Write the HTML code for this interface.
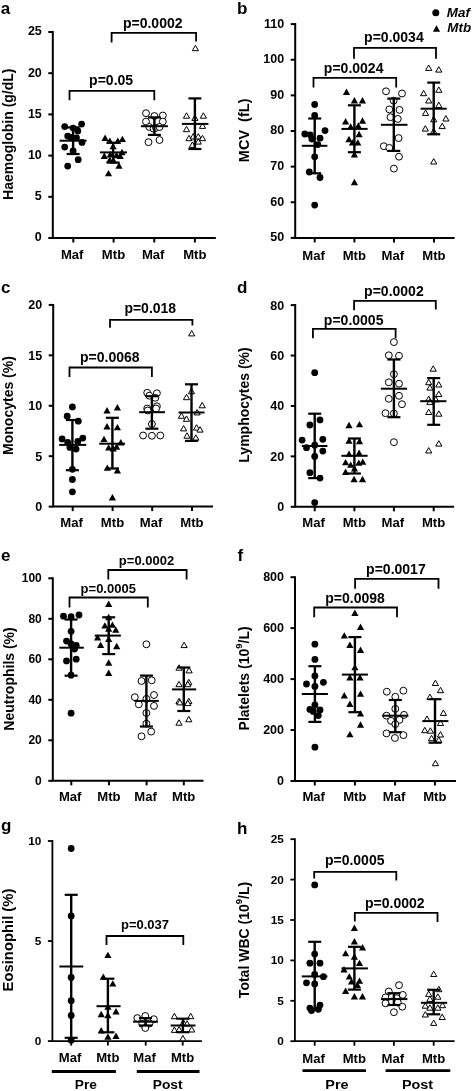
<!DOCTYPE html>
<html><head><meta charset="utf-8"><title>Figure</title>
<style>
html,body{margin:0;padding:0;background:#fff;}
svg{display:block;filter:blur(0.35px);}
text{font-family:"Liberation Sans", sans-serif;fill:#000;}
.B{font-weight:bold;}
.BI{font-weight:bold;font-style:italic;}
.L{font-weight:bold;font-size:17px;}
.o{fill:#fff;stroke:#000;stroke-width:1;}
</style></head>
<body>
<svg width="474" height="1091" viewBox="0 0 474 1091">
<rect width="474" height="1091" fill="#fff"/>
<text transform="translate(0.7 13.7) scale(1 1)" font-size="17" class="B">a</text>
<g stroke="#000" stroke-linecap="butt">
<path d="M52.8 31.01V238H215.8" fill="none" stroke-width="2" stroke-linejoin="miter"/>
<line x1="48.3" y1="238" x2="52.8" y2="238" stroke-width="2"/>
<line x1="48.3" y1="196.8" x2="52.8" y2="196.8" stroke-width="2"/>
<line x1="48.3" y1="155.6" x2="52.8" y2="155.6" stroke-width="2"/>
<line x1="48.3" y1="114.4" x2="52.8" y2="114.4" stroke-width="2"/>
<line x1="48.3" y1="73.2" x2="52.8" y2="73.2" stroke-width="2"/>
<line x1="48.3" y1="32" x2="52.8" y2="32" stroke-width="2"/>
<line x1="73.3" y1="238" x2="73.3" y2="242.5" stroke-width="2"/>
<line x1="113.6" y1="238" x2="113.6" y2="242.5" stroke-width="2"/>
<line x1="154.3" y1="238" x2="154.3" y2="242.5" stroke-width="2"/>
<line x1="194.9" y1="238" x2="194.9" y2="242.5" stroke-width="2"/>
</g>
<text transform="translate(41.8 241.47) scale(1 1)" text-anchor="end" font-size="12.5" class="B">0</text>
<text transform="translate(41.8 200.28) scale(1 1)" text-anchor="end" font-size="12.5" class="B">5</text>
<text transform="translate(41.8 159.07) scale(1 1)" text-anchor="end" font-size="12.5" class="B">10</text>
<text transform="translate(41.8 117.88) scale(1 1)" text-anchor="end" font-size="12.5" class="B">15</text>
<text transform="translate(41.8 76.67) scale(1 1)" text-anchor="end" font-size="12.5" class="B">20</text>
<text transform="translate(41.8 35.48) scale(1 1)" text-anchor="end" font-size="12.5" class="B">25</text>
<text transform="translate(72.2 258.95) scale(1.05 1)" text-anchor="middle" font-size="12.5" class="B">Maf</text>
<text transform="translate(113.5 258.95) scale(1.05 1)" text-anchor="middle" font-size="12.5" class="B">Mtb</text>
<text transform="translate(153.2 258.95) scale(1.05 1)" text-anchor="middle" font-size="12.5" class="B">Maf</text>
<text transform="translate(194.8 258.95) scale(1.05 1)" text-anchor="middle" font-size="12.5" class="B">Mtb</text>
<text transform="translate(12.8 134.2) rotate(-90)" text-anchor="middle" font-size="14" class="B">Haemoglobin (g/dL)</text>
<path d="M69.5 100.2V90.9H154.3V100.2" fill="none" stroke="#000" stroke-width="1.8" stroke-linejoin="miter"/>
<text transform="translate(111.1 85.16) scale(1 1)" text-anchor="middle" font-size="14" class="B">p=0.05</text>
<path d="M111.6 42.6V32.9H196.1V41.6" fill="none" stroke="#000" stroke-width="1.8" stroke-linejoin="miter"/>
<text transform="translate(152.75 28.01) scale(1 1)" text-anchor="middle" font-size="14" class="B">p=0.0002</text>
<g><circle cx="64.7" cy="126.6" r="3.4"/><circle cx="81.6" cy="124.1" r="3.4"/><circle cx="73.1" cy="128.1" r="3.4"/><circle cx="77.8" cy="131" r="3.4"/><circle cx="67.7" cy="136.1" r="3.4"/><circle cx="76.5" cy="137.8" r="3.4"/><circle cx="71" cy="137.4" r="3.4"/><circle cx="82" cy="142.4" r="3.4"/><circle cx="64.7" cy="147.1" r="3.4"/><circle cx="73.1" cy="150.9" r="3.4"/><circle cx="78.2" cy="159.7" r="3.4"/><circle cx="67.7" cy="166.1" r="3.4"/></g>
<g stroke="#000">
<line x1="73.1" y1="127.4" x2="73.1" y2="154" stroke-width="2.4"/>
<line x1="66.6" y1="127.4" x2="79.6" y2="127.4" stroke-width="2.2"/>
<line x1="66.6" y1="154" x2="79.6" y2="154" stroke-width="2.2"/>
<line x1="59.6" y1="140.7" x2="86.6" y2="140.7" stroke-width="2"/>
</g>
<g><polygon points="105.1,134.5 101.5,140.9 108.7,140.9"/><polygon points="109.8,137.4 106.2,143.8 113.4,143.8"/><polygon points="117.8,137.4 114.2,143.8 121.4,143.8"/><polygon points="122.4,135.7 118.8,142.1 126,142.1"/><polygon points="113.1,142.9 109.5,149.3 116.7,149.3"/><polygon points="122,148.8 118.4,155.2 125.6,155.2"/><polygon points="104.3,152.6 100.7,159 107.9,159"/><polygon points="110.3,151 106.7,157.4 113.9,157.4"/><polygon points="116.5,151.8 112.9,158.2 120.1,158.2"/><polygon points="120.2,152.6 116.6,159 123.8,159"/><polygon points="109.8,156.4 106.2,162.8 113.4,162.8"/><polygon points="113.6,157.2 110,163.6 117.2,163.6"/><polygon points="119,162.3 115.4,168.7 122.6,168.7"/><polygon points="108.5,169.9 104.9,176.3 112.1,176.3"/></g>
<g stroke="#000">
<line x1="113.1" y1="142.7" x2="113.1" y2="162.6" stroke-width="2.4"/>
<line x1="106.6" y1="142.7" x2="119.6" y2="142.7" stroke-width="2.2"/>
<line x1="106.6" y1="162.6" x2="119.6" y2="162.6" stroke-width="2.2"/>
<line x1="100" y1="152.4" x2="127" y2="152.4" stroke-width="2"/>
</g>
<g><circle cx="146" cy="113.2" r="3.45" class="o"/><circle cx="154.4" cy="116" r="3.45" class="o"/><circle cx="162.8" cy="115.5" r="3.45" class="o"/><circle cx="146" cy="121.6" r="3.45" class="o"/><circle cx="162.8" cy="121.6" r="3.45" class="o"/><circle cx="149.3" cy="127" r="3.45" class="o"/><circle cx="153.6" cy="128.7" r="3.45" class="o"/><circle cx="156" cy="127.8" r="3.45" class="o"/><circle cx="159.5" cy="127" r="3.45" class="o"/><circle cx="148.5" cy="142.2" r="3.45" class="o"/><circle cx="159.5" cy="140" r="3.45" class="o"/></g>
<g stroke="#000">
<line x1="154.4" y1="117.4" x2="154.4" y2="134.9" stroke-width="2.4"/>
<line x1="147.9" y1="117.4" x2="160.9" y2="117.4" stroke-width="2.2"/>
<line x1="147.9" y1="134.9" x2="160.9" y2="134.9" stroke-width="2.2"/>
<line x1="140.9" y1="126.2" x2="167.9" y2="126.2" stroke-width="2"/>
</g>
<g><polygon points="186.5,112.8 183.4,118.2 189.6,118.2" class="o" stroke-linejoin="miter"/><polygon points="203.4,112.8 200.3,118.2 206.5,118.2" class="o" stroke-linejoin="miter"/><polygon points="194.9,115 191.8,120.4 198,120.4" class="o" stroke-linejoin="miter"/><polygon points="186.5,126.3 183.4,131.7 189.6,131.7" class="o" stroke-linejoin="miter"/><polygon points="202.5,123 199.4,128.4 205.6,128.4" class="o" stroke-linejoin="miter"/><polygon points="189,135.3 185.9,140.7 192.1,140.7" class="o" stroke-linejoin="miter"/><polygon points="193.2,133.6 190.1,139 196.3,139" class="o" stroke-linejoin="miter"/><polygon points="198.3,133.6 195.2,139 201.4,139" class="o" stroke-linejoin="miter"/><polygon points="202.5,135.3 199.4,140.7 205.6,140.7" class="o" stroke-linejoin="miter"/><polygon points="192.4,142 189.3,147.4 195.5,147.4" class="o" stroke-linejoin="miter"/><polygon points="198.3,138.7 195.2,144.1 201.4,144.1" class="o" stroke-linejoin="miter"/><polygon points="195.4,45.3 192.3,50.7 198.5,50.7" class="o" stroke-linejoin="miter"/></g>
<g stroke="#000">
<line x1="194.9" y1="98.4" x2="194.9" y2="149" stroke-width="2.4"/>
<line x1="188.4" y1="98.4" x2="201.4" y2="98.4" stroke-width="2.2"/>
<line x1="188.4" y1="149" x2="201.4" y2="149" stroke-width="2.2"/>
<line x1="181.9" y1="123.9" x2="208.4" y2="123.9" stroke-width="2"/>
</g>
<text transform="translate(236.9 13.6) scale(1 1)" font-size="17" class="B">b</text>
<g stroke="#000" stroke-linecap="butt">
<path d="M295.2 23.11V237.9H454.6" fill="none" stroke-width="2" stroke-linejoin="miter"/>
<line x1="290.7" y1="237.9" x2="295.2" y2="237.9" stroke-width="2"/>
<line x1="290.7" y1="202.27" x2="295.2" y2="202.27" stroke-width="2"/>
<line x1="290.7" y1="166.63" x2="295.2" y2="166.63" stroke-width="2"/>
<line x1="290.7" y1="131" x2="295.2" y2="131" stroke-width="2"/>
<line x1="290.7" y1="95.37" x2="295.2" y2="95.37" stroke-width="2"/>
<line x1="290.7" y1="59.73" x2="295.2" y2="59.73" stroke-width="2"/>
<line x1="290.7" y1="24.1" x2="295.2" y2="24.1" stroke-width="2"/>
<line x1="314.7" y1="237.9" x2="314.7" y2="242.4" stroke-width="2"/>
<line x1="354.4" y1="237.9" x2="354.4" y2="242.4" stroke-width="2"/>
<line x1="394" y1="237.9" x2="394" y2="242.4" stroke-width="2"/>
<line x1="434" y1="237.9" x2="434" y2="242.4" stroke-width="2"/>
</g>
<text transform="translate(284.2 241.38) scale(1 1)" text-anchor="end" font-size="12.5" class="B">50</text>
<text transform="translate(284.2 205.74) scale(1 1)" text-anchor="end" font-size="12.5" class="B">60</text>
<text transform="translate(284.2 170.11) scale(1 1)" text-anchor="end" font-size="12.5" class="B">70</text>
<text transform="translate(284.2 134.47) scale(1 1)" text-anchor="end" font-size="12.5" class="B">80</text>
<text transform="translate(284.2 98.84) scale(1 1)" text-anchor="end" font-size="12.5" class="B">90</text>
<text transform="translate(284.2 63.21) scale(1 1)" text-anchor="end" font-size="12.5" class="B">100</text>
<text transform="translate(284.2 27.57) scale(1 1)" text-anchor="end" font-size="12.5" class="B">110</text>
<text transform="translate(313.6 259.55) scale(1.05 1)" text-anchor="middle" font-size="12.5" class="B">Maf</text>
<text transform="translate(354.3 259.55) scale(1.05 1)" text-anchor="middle" font-size="12.5" class="B">Mtb</text>
<text transform="translate(392.9 259.55) scale(1.05 1)" text-anchor="middle" font-size="12.5" class="B">Maf</text>
<text transform="translate(433.9 259.55) scale(1.05 1)" text-anchor="middle" font-size="12.5" class="B">Mtb</text>
<text transform="translate(248.7 130.35) rotate(-90)" text-anchor="middle" font-size="14.5" class="B">MCV  (fL)</text>
<path d="M313.5 87.5V77.9H396.2V87.5" fill="none" stroke="#000" stroke-width="1.8" stroke-linejoin="miter"/>
<text transform="translate(353.65 72.96) scale(1 1)" text-anchor="middle" font-size="14" class="B">p=0.0024</text>
<path d="M354 58.8V47.9H436V58.8" fill="none" stroke="#000" stroke-width="1.8" stroke-linejoin="miter"/>
<text transform="translate(393.9 42.41) scale(1 1)" text-anchor="middle" font-size="14" class="B">p=0.0034</text>
<g><circle cx="314.7" cy="104.5" r="3.4"/><circle cx="314.7" cy="115.4" r="3.4"/><circle cx="304.8" cy="134" r="3.4"/><circle cx="310.2" cy="134.8" r="3.4"/><circle cx="325" cy="130.6" r="3.4"/><circle cx="311.9" cy="139" r="3.4"/><circle cx="320" cy="138.2" r="3.4"/><circle cx="317.8" cy="144.6" r="3.4"/><circle cx="314.7" cy="156.8" r="3.4"/><circle cx="309.3" cy="172" r="3.4"/><circle cx="320" cy="177.5" r="3.4"/><circle cx="314.7" cy="205.1" r="3.4"/></g>
<g stroke="#000">
<line x1="314.7" y1="118.5" x2="314.7" y2="173.3" stroke-width="2.4"/>
<line x1="308.2" y1="118.5" x2="321.2" y2="118.5" stroke-width="2.2"/>
<line x1="308.2" y1="173.3" x2="321.2" y2="173.3" stroke-width="2.2"/>
<line x1="301.8" y1="145.8" x2="327.4" y2="145.8" stroke-width="2"/>
</g>
<g><polygon points="346.5,88.6 342.9,95 350.1,95"/><polygon points="354.4,97 350.8,103.4 358,103.4"/><polygon points="362.5,97 358.9,103.4 366.1,103.4"/><polygon points="345.6,118.1 342,124.5 349.2,124.5"/><polygon points="362.5,117.3 358.9,123.7 366.1,123.7"/><polygon points="350.7,123.2 347.1,129.6 354.3,129.6"/><polygon points="358.3,122.3 354.7,128.7 361.9,128.7"/><polygon points="359.1,130.8 355.5,137.2 362.7,137.2"/><polygon points="349,135.8 345.4,142.2 352.6,142.2"/><polygon points="352.4,139.2 348.8,145.6 356,145.6"/><polygon points="357.8,139.2 354.2,145.6 361.4,145.6"/><polygon points="354.4,151 350.8,157.4 358,157.4"/><polygon points="354.4,178.8 350.8,185.2 358,185.2"/></g>
<g stroke="#000">
<line x1="354.4" y1="105.3" x2="354.4" y2="152.2" stroke-width="2.4"/>
<line x1="347.9" y1="105.3" x2="360.9" y2="105.3" stroke-width="2.2"/>
<line x1="347.9" y1="152.2" x2="360.9" y2="152.2" stroke-width="2.2"/>
<line x1="341.4" y1="128.9" x2="367.6" y2="128.9" stroke-width="2"/>
</g>
<g><circle cx="386" cy="91.3" r="3.45" class="o"/><circle cx="402" cy="93.5" r="3.45" class="o"/><circle cx="393.6" cy="100.6" r="3.45" class="o"/><circle cx="389.3" cy="109.4" r="3.45" class="o"/><circle cx="399.5" cy="109.9" r="3.45" class="o"/><circle cx="390.5" cy="117.2" r="3.45" class="o"/><circle cx="397.8" cy="118.9" r="3.45" class="o"/><circle cx="398.6" cy="138.1" r="3.45" class="o"/><circle cx="383.8" cy="146.2" r="3.45" class="o"/><circle cx="389.3" cy="147.9" r="3.45" class="o"/><circle cx="399" cy="156.7" r="3.45" class="o"/><circle cx="393.9" cy="168.6" r="3.45" class="o"/></g>
<g stroke="#000">
<line x1="393.8" y1="98.6" x2="393.8" y2="150.9" stroke-width="2.4"/>
<line x1="387.3" y1="98.6" x2="400.3" y2="98.6" stroke-width="2.2"/>
<line x1="387.3" y1="150.9" x2="400.3" y2="150.9" stroke-width="2.2"/>
<line x1="380.9" y1="124.8" x2="407.5" y2="124.8" stroke-width="2"/>
</g>
<g><polygon points="428.7,65 425.6,70.4 431.8,70.4" class="o" stroke-linejoin="miter"/><polygon points="438.8,66.7 435.7,72.1 441.9,72.1" class="o" stroke-linejoin="miter"/><polygon points="438.8,86.9 435.7,92.3 441.9,92.3" class="o" stroke-linejoin="miter"/><polygon points="423.6,90.3 420.5,95.7 426.7,95.7" class="o" stroke-linejoin="miter"/><polygon points="428.7,97.6 425.6,103 431.8,103" class="o" stroke-linejoin="miter"/><polygon points="438.8,102.1 435.7,107.5 441.9,107.5" class="o" stroke-linejoin="miter"/><polygon points="425.6,110 422.5,115.4 428.7,115.4" class="o" stroke-linejoin="miter"/><polygon points="433.7,116.4 430.6,121.8 436.8,121.8" class="o" stroke-linejoin="miter"/><polygon points="445.9,115.6 442.8,121 449,121" class="o" stroke-linejoin="miter"/><polygon points="442.2,123.2 439.1,128.6 445.3,128.6" class="o" stroke-linejoin="miter"/><polygon points="425.3,125.7 422.2,131.1 428.4,131.1" class="o" stroke-linejoin="miter"/><polygon points="433.7,128.3 430.6,133.7 436.8,133.7" class="o" stroke-linejoin="miter"/><polygon points="433.7,158.6 430.6,164 436.8,164" class="o" stroke-linejoin="miter"/></g>
<g stroke="#000">
<line x1="433.7" y1="82.6" x2="433.7" y2="134.3" stroke-width="2.4"/>
<line x1="427.2" y1="82.6" x2="440.2" y2="82.6" stroke-width="2.2"/>
<line x1="427.2" y1="134.3" x2="440.2" y2="134.3" stroke-width="2.2"/>
<line x1="420.6" y1="108.7" x2="446.7" y2="108.7" stroke-width="2"/>
</g>
<circle cx="435.8" cy="12.7" r="3.5"/>
<polygon points="436.5,25.3 432.9,31.7 440.1,31.7"/>
<text transform="translate(446.8 16.8) scale(1.03 1)" font-size="13" class="BI">Maf</text>
<text transform="translate(447.3 31.7) scale(1.03 1)" font-size="13" class="BI">Mtb</text>
<text transform="translate(1 292.8) scale(1 1)" font-size="17" class="B">c</text>
<g stroke="#000" stroke-linecap="butt">
<path d="M53.2 303.91V506.6H213" fill="none" stroke-width="2" stroke-linejoin="miter"/>
<line x1="48.7" y1="506.6" x2="53.2" y2="506.6" stroke-width="2"/>
<line x1="48.7" y1="456.18" x2="53.2" y2="456.18" stroke-width="2"/>
<line x1="48.7" y1="405.75" x2="53.2" y2="405.75" stroke-width="2"/>
<line x1="48.7" y1="355.32" x2="53.2" y2="355.32" stroke-width="2"/>
<line x1="48.7" y1="304.9" x2="53.2" y2="304.9" stroke-width="2"/>
<line x1="72.7" y1="506.6" x2="72.7" y2="511.1" stroke-width="2"/>
<line x1="112.6" y1="506.6" x2="112.6" y2="511.1" stroke-width="2"/>
<line x1="152.2" y1="506.6" x2="152.2" y2="511.1" stroke-width="2"/>
<line x1="192" y1="506.6" x2="192" y2="511.1" stroke-width="2"/>
</g>
<text transform="translate(42.2 511.08) scale(1 1)" text-anchor="end" font-size="12.5" class="B">0</text>
<text transform="translate(42.2 460.65) scale(1 1)" text-anchor="end" font-size="12.5" class="B">5</text>
<text transform="translate(42.2 410.23) scale(1 1)" text-anchor="end" font-size="12.5" class="B">10</text>
<text transform="translate(42.2 359.8) scale(1 1)" text-anchor="end" font-size="12.5" class="B">15</text>
<text transform="translate(42.2 309.38) scale(1 1)" text-anchor="end" font-size="12.5" class="B">20</text>
<text transform="translate(71.6 527.45) scale(1.05 1)" text-anchor="middle" font-size="12.5" class="B">Maf</text>
<text transform="translate(112.5 527.45) scale(1.05 1)" text-anchor="middle" font-size="12.5" class="B">Mtb</text>
<text transform="translate(151.1 527.45) scale(1.05 1)" text-anchor="middle" font-size="12.5" class="B">Maf</text>
<text transform="translate(191.9 527.45) scale(1.05 1)" text-anchor="middle" font-size="12.5" class="B">Mtb</text>
<text transform="translate(12.8 405.5) rotate(-90)" text-anchor="middle" font-size="14" class="B">Monocytes (%)</text>
<path d="M69.5 377V367.5H151.9V377" fill="none" stroke="#000" stroke-width="1.8" stroke-linejoin="miter"/>
<text transform="translate(109.85 361.71) scale(1 1)" text-anchor="middle" font-size="14" class="B">p=0.0068</text>
<path d="M110 327.8V319.8H192.4V325.4" fill="none" stroke="#000" stroke-width="1.8" stroke-linejoin="miter"/>
<text transform="translate(150.25 312.81) scale(1 1)" text-anchor="middle" font-size="14" class="B">p=0.018</text>
<g><circle cx="72.4" cy="406.9" r="3.4"/><circle cx="67.2" cy="416.2" r="3.4"/><circle cx="78.3" cy="421.2" r="3.4"/><circle cx="62.1" cy="438.9" r="3.4"/><circle cx="82.8" cy="438.1" r="3.4"/><circle cx="67.7" cy="442.3" r="3.4"/><circle cx="77.8" cy="441.5" r="3.4"/><circle cx="69.9" cy="447.4" r="3.4"/><circle cx="76.1" cy="449.1" r="3.4"/><circle cx="72.4" cy="469.3" r="3.4"/><circle cx="72.4" cy="479.5" r="3.4"/><circle cx="72.4" cy="491.8" r="3.4"/></g>
<g stroke="#000">
<line x1="72.4" y1="420" x2="72.4" y2="470.2" stroke-width="2.4"/>
<line x1="65.9" y1="420" x2="78.9" y2="420" stroke-width="2.2"/>
<line x1="65.9" y1="470.2" x2="78.9" y2="470.2" stroke-width="2.2"/>
<line x1="59.2" y1="444.9" x2="86.2" y2="444.9" stroke-width="2"/>
</g>
<g><polygon points="107,407.1 103.4,413.5 110.6,413.5"/><polygon points="117.4,404 113.8,410.4 121,410.4"/><polygon points="107,423.1 103.4,429.5 110.6,429.5"/><polygon points="117.4,423.9 113.8,430.3 121,430.3"/><polygon points="104,435.7 100.4,442.1 107.6,442.1"/><polygon points="120.8,439.1 117.2,445.5 124.4,445.5"/><polygon points="108.7,444.2 105.1,450.6 112.3,450.6"/><polygon points="113.2,445 109.6,451.4 116.8,451.4"/><polygon points="116.6,443.3 113,449.7 120.2,449.7"/><polygon points="107.3,464.4 103.7,470.8 110.9,470.8"/><polygon points="117.4,467 113.8,473.4 121,473.4"/><polygon points="112.4,494 108.8,500.4 116,500.4"/></g>
<g stroke="#000">
<line x1="112.4" y1="417.8" x2="112.4" y2="468.5" stroke-width="2.4"/>
<line x1="105.9" y1="417.8" x2="118.9" y2="417.8" stroke-width="2.2"/>
<line x1="105.9" y1="468.5" x2="118.9" y2="468.5" stroke-width="2.2"/>
<line x1="99.2" y1="443.7" x2="125" y2="443.7" stroke-width="2"/>
</g>
<g><circle cx="147.2" cy="392.8" r="3.45" class="o"/><circle cx="156.9" cy="393.3" r="3.45" class="o"/><circle cx="149.3" cy="395.7" r="3.45" class="o"/><circle cx="155.3" cy="397.8" r="3.45" class="o"/><circle cx="147.2" cy="408.5" r="3.45" class="o"/><circle cx="147.7" cy="410.5" r="3.45" class="o"/><circle cx="156.9" cy="406.3" r="3.45" class="o"/><circle cx="156.1" cy="408.5" r="3.45" class="o"/><circle cx="151.9" cy="424" r="3.45" class="o"/><circle cx="143.1" cy="435.5" r="3.45" class="o"/><circle cx="151.9" cy="435.8" r="3.45" class="o"/><circle cx="160.3" cy="435.5" r="3.45" class="o"/></g>
<g stroke="#000">
<line x1="151.9" y1="396.2" x2="151.9" y2="428.7" stroke-width="2.4"/>
<line x1="145.4" y1="396.2" x2="158.4" y2="396.2" stroke-width="2.2"/>
<line x1="145.4" y1="428.7" x2="158.4" y2="428.7" stroke-width="2.2"/>
<line x1="139.2" y1="412.2" x2="165" y2="412.2" stroke-width="2"/>
</g>
<g><polygon points="191.5,388.4 188.4,393.8 194.6,393.8" class="o" stroke-linejoin="miter"/><polygon points="186.5,394.3 183.4,399.7 189.6,399.7" class="o" stroke-linejoin="miter"/><polygon points="202.2,402.4 199.1,407.8 205.3,407.8" class="o" stroke-linejoin="miter"/><polygon points="197.1,409.5 194,414.9 200.2,414.9" class="o" stroke-linejoin="miter"/><polygon points="181.4,412.9 178.3,418.3 184.5,418.3" class="o" stroke-linejoin="miter"/><polygon points="186.5,415.9 183.4,421.3 189.6,421.3" class="o" stroke-linejoin="miter"/><polygon points="183.6,425.5 180.5,430.9 186.7,430.9" class="o" stroke-linejoin="miter"/><polygon points="196.6,424.7 193.5,430.1 199.7,430.1" class="o" stroke-linejoin="miter"/><polygon points="200,426.7 196.9,432.1 203.1,432.1" class="o" stroke-linejoin="miter"/><polygon points="187,432.8 183.9,438.2 190.1,438.2" class="o" stroke-linejoin="miter"/><polygon points="195.8,434.8 192.7,440.2 198.9,440.2" class="o" stroke-linejoin="miter"/><polygon points="191.7,330.5 188.6,335.9 194.8,335.9" class="o" stroke-linejoin="miter"/></g>
<g stroke="#000">
<line x1="191.5" y1="384.3" x2="191.5" y2="440.9" stroke-width="2.4"/>
<line x1="185" y1="384.3" x2="198" y2="384.3" stroke-width="2.2"/>
<line x1="185" y1="440.9" x2="198" y2="440.9" stroke-width="2.2"/>
<line x1="178.5" y1="412.5" x2="204.5" y2="412.5" stroke-width="2"/>
</g>
<text transform="translate(236.9 292.8) scale(1 1)" font-size="17" class="B">d</text>
<g stroke="#000" stroke-linecap="butt">
<path d="M295.2 304.11V506.8H454.1" fill="none" stroke-width="2" stroke-linejoin="miter"/>
<line x1="290.7" y1="506.8" x2="295.2" y2="506.8" stroke-width="2"/>
<line x1="290.7" y1="456.38" x2="295.2" y2="456.38" stroke-width="2"/>
<line x1="290.7" y1="405.95" x2="295.2" y2="405.95" stroke-width="2"/>
<line x1="290.7" y1="355.53" x2="295.2" y2="355.53" stroke-width="2"/>
<line x1="290.7" y1="305.1" x2="295.2" y2="305.1" stroke-width="2"/>
<line x1="314.7" y1="506.8" x2="314.7" y2="511.3" stroke-width="2"/>
<line x1="354.4" y1="506.8" x2="354.4" y2="511.3" stroke-width="2"/>
<line x1="393.9" y1="506.8" x2="393.9" y2="511.3" stroke-width="2"/>
<line x1="433.7" y1="506.8" x2="433.7" y2="511.3" stroke-width="2"/>
</g>
<text transform="translate(284.2 511.28) scale(1 1)" text-anchor="end" font-size="12.5" class="B">0</text>
<text transform="translate(284.2 460.85) scale(1 1)" text-anchor="end" font-size="12.5" class="B">20</text>
<text transform="translate(284.2 410.43) scale(1 1)" text-anchor="end" font-size="12.5" class="B">40</text>
<text transform="translate(284.2 360) scale(1 1)" text-anchor="end" font-size="12.5" class="B">60</text>
<text transform="translate(284.2 309.58) scale(1 1)" text-anchor="end" font-size="12.5" class="B">80</text>
<text transform="translate(313.6 527.45) scale(1.05 1)" text-anchor="middle" font-size="12.5" class="B">Maf</text>
<text transform="translate(354.3 527.45) scale(1.05 1)" text-anchor="middle" font-size="12.5" class="B">Mtb</text>
<text transform="translate(392.8 527.45) scale(1.05 1)" text-anchor="middle" font-size="12.5" class="B">Maf</text>
<text transform="translate(433.6 527.45) scale(1.05 1)" text-anchor="middle" font-size="12.5" class="B">Mtb</text>
<text transform="translate(249 405) rotate(-90)" text-anchor="middle" font-size="14" class="B">Lymphocytes (%)</text>
<path d="M312.9 338.3V328.9H395.6V338.3" fill="none" stroke="#000" stroke-width="1.8" stroke-linejoin="miter"/>
<text transform="translate(353.65 324.61) scale(1 1)" text-anchor="middle" font-size="14" class="B">p=0.0005</text>
<path d="M354.1 310.3V300.9H435.8V309.6" fill="none" stroke="#000" stroke-width="1.8" stroke-linejoin="miter"/>
<text transform="translate(393.9 296.41) scale(1 1)" text-anchor="middle" font-size="14" class="B">p=0.0002</text>
<g><circle cx="314.7" cy="372.7" r="3.4"/><circle cx="320" cy="419.9" r="3.4"/><circle cx="309.9" cy="425" r="3.4"/><circle cx="302.1" cy="440.1" r="3.4"/><circle cx="322.8" cy="439.3" r="3.4"/><circle cx="306.5" cy="447.7" r="3.4"/><circle cx="314.7" cy="445.2" r="3.4"/><circle cx="322.8" cy="451.1" r="3.4"/><circle cx="314.7" cy="456.5" r="3.4"/><circle cx="309.9" cy="472.7" r="3.4"/><circle cx="320" cy="478.1" r="3.4"/><circle cx="314.7" cy="502.6" r="3.4"/></g>
<g stroke="#000">
<line x1="314.7" y1="413.7" x2="314.7" y2="478.1" stroke-width="2.4"/>
<line x1="308.2" y1="413.7" x2="321.2" y2="413.7" stroke-width="2.2"/>
<line x1="308.2" y1="478.1" x2="321.2" y2="478.1" stroke-width="2.2"/>
<line x1="301.8" y1="446" x2="327.4" y2="446" stroke-width="2"/>
</g>
<g><polygon points="349,421.8 345.4,428.2 352.6,428.2"/><polygon points="359.5,420.9 355.9,427.3 363.1,427.3"/><polygon points="349,437.4 345.4,443.8 352.6,443.8"/><polygon points="359.5,437.8 355.9,444.2 363.1,444.2"/><polygon points="349,450.4 345.4,456.8 352.6,456.8"/><polygon points="359.1,449.6 355.5,456 362.7,456"/><polygon points="345.6,458.9 342,465.3 349.2,465.3"/><polygon points="350.7,461.4 347.1,467.8 354.3,467.8"/><polygon points="358.8,459.4 355.2,465.8 362.4,465.8"/><polygon points="362.8,458.4 359.2,464.8 366.4,464.8"/><polygon points="345.6,468.5 342,474.9 349.2,474.9"/><polygon points="354.5,465.1 350.9,471.5 358.1,471.5"/><polygon points="354.1,475.8 350.5,482.2 357.7,482.2"/><polygon points="362.5,475.8 358.9,482.2 366.1,482.2"/></g>
<g stroke="#000">
<line x1="354.4" y1="438.5" x2="354.4" y2="473.5" stroke-width="2.4"/>
<line x1="347.9" y1="438.5" x2="360.9" y2="438.5" stroke-width="2.2"/>
<line x1="347.9" y1="473.5" x2="360.9" y2="473.5" stroke-width="2.2"/>
<line x1="341.4" y1="455.8" x2="367.6" y2="455.8" stroke-width="2"/>
</g>
<g><circle cx="393.9" cy="342.1" r="3.45" class="o"/><circle cx="388.8" cy="355.3" r="3.45" class="o"/><circle cx="399" cy="355.8" r="3.45" class="o"/><circle cx="393.9" cy="374.2" r="3.45" class="o"/><circle cx="388.8" cy="382.3" r="3.45" class="o"/><circle cx="399" cy="383.7" r="3.45" class="o"/><circle cx="399" cy="395.8" r="3.45" class="o"/><circle cx="388.8" cy="398.8" r="3.45" class="o"/><circle cx="402" cy="404.2" r="3.45" class="o"/><circle cx="385.5" cy="413.2" r="3.45" class="o"/><circle cx="393.9" cy="413.5" r="3.45" class="o"/><circle cx="393.9" cy="442.2" r="3.45" class="o"/></g>
<g stroke="#000">
<line x1="393.9" y1="359.5" x2="393.9" y2="417.2" stroke-width="2.4"/>
<line x1="387.4" y1="359.5" x2="400.4" y2="359.5" stroke-width="2.2"/>
<line x1="387.4" y1="417.2" x2="400.4" y2="417.2" stroke-width="2.2"/>
<line x1="380.9" y1="388.7" x2="407.1" y2="388.7" stroke-width="2"/>
</g>
<g><polygon points="433.2,365.8 430.1,371.2 436.3,371.2" class="o" stroke-linejoin="miter"/><polygon points="428.7,379.3 425.6,384.7 431.8,384.7" class="o" stroke-linejoin="miter"/><polygon points="438.8,381.6 435.7,387 441.9,387" class="o" stroke-linejoin="miter"/><polygon points="429.9,384.7 426.8,390.1 433,390.1" class="o" stroke-linejoin="miter"/><polygon points="438.8,391.1 435.7,396.5 441.9,396.5" class="o" stroke-linejoin="miter"/><polygon points="428.7,396.1 425.6,401.5 431.8,401.5" class="o" stroke-linejoin="miter"/><polygon points="435.8,396.5 432.7,401.9 438.9,401.9" class="o" stroke-linejoin="miter"/><polygon points="429.9,399 426.8,404.4 433,404.4" class="o" stroke-linejoin="miter"/><polygon points="428.7,409.1 425.6,414.5 431.8,414.5" class="o" stroke-linejoin="miter"/><polygon points="438.8,410.8 435.7,416.2 441.9,416.2" class="o" stroke-linejoin="miter"/><polygon points="438.8,440.7 435.7,446.1 441.9,446.1" class="o" stroke-linejoin="miter"/><polygon points="428.7,447.6 425.6,453 431.8,453" class="o" stroke-linejoin="miter"/></g>
<g stroke="#000">
<line x1="433.7" y1="378.1" x2="433.7" y2="424.8" stroke-width="2.4"/>
<line x1="427.2" y1="378.1" x2="440.2" y2="378.1" stroke-width="2.2"/>
<line x1="427.2" y1="424.8" x2="440.2" y2="424.8" stroke-width="2.2"/>
<line x1="420.2" y1="401.2" x2="446.4" y2="401.2" stroke-width="2"/>
</g>
<text transform="translate(1 561.4) scale(1 1)" font-size="17" class="B">e</text>
<g stroke="#000" stroke-linecap="butt">
<path d="M52.8 577.31V780.8H203.5" fill="none" stroke-width="2" stroke-linejoin="miter"/>
<line x1="48.3" y1="780.8" x2="52.8" y2="780.8" stroke-width="2"/>
<line x1="48.3" y1="740.3" x2="52.8" y2="740.3" stroke-width="2"/>
<line x1="48.3" y1="699.8" x2="52.8" y2="699.8" stroke-width="2"/>
<line x1="48.3" y1="659.3" x2="52.8" y2="659.3" stroke-width="2"/>
<line x1="48.3" y1="618.8" x2="52.8" y2="618.8" stroke-width="2"/>
<line x1="48.3" y1="578.3" x2="52.8" y2="578.3" stroke-width="2"/>
<line x1="71.3" y1="780.8" x2="71.3" y2="785.3" stroke-width="2"/>
<line x1="109" y1="780.8" x2="109" y2="785.3" stroke-width="2"/>
<line x1="146.6" y1="780.8" x2="146.6" y2="785.3" stroke-width="2"/>
<line x1="183.8" y1="780.8" x2="183.8" y2="785.3" stroke-width="2"/>
</g>
<text transform="translate(41.8 784.9) scale(1 1)" text-anchor="end" font-size="12" class="B">0</text>
<text transform="translate(41.8 744.4) scale(1 1)" text-anchor="end" font-size="12" class="B">20</text>
<text transform="translate(41.8 703.9) scale(1 1)" text-anchor="end" font-size="12" class="B">40</text>
<text transform="translate(41.8 663.4) scale(1 1)" text-anchor="end" font-size="12" class="B">60</text>
<text transform="translate(41.8 622.9) scale(1 1)" text-anchor="end" font-size="12" class="B">80</text>
<text transform="translate(41.8 582.4) scale(1 1)" text-anchor="end" font-size="12" class="B">100</text>
<text transform="translate(70.2 800.85) scale(1.05 1)" text-anchor="middle" font-size="12.5" class="B">Maf</text>
<text transform="translate(108.9 800.85) scale(1.05 1)" text-anchor="middle" font-size="12.5" class="B">Mtb</text>
<text transform="translate(145.5 800.85) scale(1.05 1)" text-anchor="middle" font-size="12.5" class="B">Maf</text>
<text transform="translate(183.7 800.85) scale(1.05 1)" text-anchor="middle" font-size="12.5" class="B">Mtb</text>
<text transform="translate(13.9 679) rotate(-90)" text-anchor="middle" font-size="14" class="B">Neutrophils (%)</text>
<path d="M69.5 607.4V597.5H147.8V607.4" fill="none" stroke="#000" stroke-width="1.8" stroke-linejoin="miter"/>
<text transform="translate(108.25 593) scale(1 1)" text-anchor="middle" font-size="13" class="B">p=0.0005</text>
<path d="M108.3 579.5V570H186.6V579.5" fill="none" stroke="#000" stroke-width="1.8" stroke-linejoin="miter"/>
<text transform="translate(146.5 564.95) scale(1 1)" text-anchor="middle" font-size="13" class="B">p=0.0002</text>
<g><circle cx="63.5" cy="616.2" r="3.4"/><circle cx="71.1" cy="616.7" r="3.4"/><circle cx="79" cy="615" r="3.4"/><circle cx="71.1" cy="631.3" r="3.4"/><circle cx="66.5" cy="641.1" r="3.4"/><circle cx="71.1" cy="644" r="3.4"/><circle cx="76.2" cy="645.3" r="3.4"/><circle cx="74.5" cy="649" r="3.4"/><circle cx="66.5" cy="660.9" r="3.4"/><circle cx="76.2" cy="659.2" r="3.4"/><circle cx="71.1" cy="675.2" r="3.4"/><circle cx="71.1" cy="713.2" r="3.4"/></g>
<g stroke="#000">
<line x1="71.1" y1="619.5" x2="71.1" y2="675.7" stroke-width="2.4"/>
<line x1="64.6" y1="619.5" x2="77.6" y2="619.5" stroke-width="2.2"/>
<line x1="64.6" y1="675.7" x2="77.6" y2="675.7" stroke-width="2.2"/>
<line x1="59.3" y1="647.7" x2="83.8" y2="647.7" stroke-width="2"/>
</g>
<g><polygon points="108.7,600.6 105.1,607 112.3,607"/><polygon points="108.7,613.8 105.1,620.2 112.3,620.2"/><polygon points="104.9,622.2 101.3,628.6 108.5,628.6"/><polygon points="112.4,621.4 108.8,627.8 116,627.8"/><polygon points="115.8,626.4 112.2,632.8 119.4,632.8"/><polygon points="97.6,634 94,640.4 101.2,640.4"/><polygon points="108.7,635.7 105.1,642.1 112.3,642.1"/><polygon points="100.6,641.6 97,648 104.2,648"/><polygon points="116.7,642.8 113.1,649.2 120.3,649.2"/><polygon points="108.7,659.3 105.1,665.7 112.3,665.7"/><polygon points="108.7,669.5 105.1,675.9 112.3,675.9"/><polygon points="108.7,625.3 105.1,631.7 112.3,631.7"/></g>
<g stroke="#000">
<line x1="108.7" y1="617.3" x2="108.7" y2="654.1" stroke-width="2.4"/>
<line x1="102.2" y1="617.3" x2="115.2" y2="617.3" stroke-width="2.2"/>
<line x1="102.2" y1="654.1" x2="115.2" y2="654.1" stroke-width="2.2"/>
<line x1="94.7" y1="635.6" x2="120.9" y2="635.6" stroke-width="2"/>
</g>
<g><circle cx="146.4" cy="644.3" r="3.45" class="o"/><circle cx="141.5" cy="681" r="3.45" class="o"/><circle cx="151.7" cy="680.3" r="3.45" class="o"/><circle cx="134.8" cy="697.2" r="3.45" class="o"/><circle cx="154" cy="695" r="3.45" class="o"/><circle cx="146.4" cy="698.9" r="3.45" class="o"/><circle cx="138.8" cy="704.3" r="3.45" class="o"/><circle cx="154" cy="705.9" r="3.45" class="o"/><circle cx="146.4" cy="713" r="3.45" class="o"/><circle cx="146.4" cy="723.7" r="3.45" class="o"/><circle cx="151.2" cy="731.6" r="3.45" class="o"/><circle cx="141.5" cy="736.3" r="3.45" class="o"/></g>
<g stroke="#000">
<line x1="146.4" y1="675.6" x2="146.4" y2="726.5" stroke-width="2.4"/>
<line x1="139.9" y1="675.6" x2="152.9" y2="675.6" stroke-width="2.2"/>
<line x1="139.9" y1="726.5" x2="152.9" y2="726.5" stroke-width="2.2"/>
<line x1="134.3" y1="700.9" x2="158.8" y2="700.9" stroke-width="2"/>
</g>
<g><polygon points="184.1,642.2 181,647.6 187.2,647.6" class="o" stroke-linejoin="miter"/><polygon points="179,664.8 175.9,670.2 182.1,670.2" class="o" stroke-linejoin="miter"/><polygon points="189.1,667.5 186,672.9 192.2,672.9" class="o" stroke-linejoin="miter"/><polygon points="179,681.3 175.9,686.7 182.1,686.7" class="o" stroke-linejoin="miter"/><polygon points="188.8,679.3 185.7,684.7 191.9,684.7" class="o" stroke-linejoin="miter"/><polygon points="187.8,681.3 184.7,686.7 190.9,686.7" class="o" stroke-linejoin="miter"/><polygon points="179,698.2 175.9,703.6 182.1,703.6" class="o" stroke-linejoin="miter"/><polygon points="188.8,698.2 185.7,703.6 191.9,703.6" class="o" stroke-linejoin="miter"/><polygon points="179.9,699.5 176.8,704.9 183,704.9" class="o" stroke-linejoin="miter"/><polygon points="187.8,700.2 184.7,705.6 190.9,705.6" class="o" stroke-linejoin="miter"/><polygon points="179,719.8 175.9,725.2 182.1,725.2" class="o" stroke-linejoin="miter"/><polygon points="188.8,716.4 185.7,721.8 191.9,721.8" class="o" stroke-linejoin="miter"/></g>
<g stroke="#000">
<line x1="183.8" y1="667.5" x2="183.8" y2="711" stroke-width="2.4"/>
<line x1="177.3" y1="667.5" x2="190.3" y2="667.5" stroke-width="2.2"/>
<line x1="177.3" y1="711" x2="190.3" y2="711" stroke-width="2.2"/>
<line x1="171.9" y1="689.4" x2="196.2" y2="689.4" stroke-width="2"/>
</g>
<text transform="translate(237.4 561.4) scale(1 1)" font-size="17" class="B">f</text>
<g stroke="#000" stroke-linecap="butt">
<path d="M295 576.21V781H456" fill="none" stroke-width="2" stroke-linejoin="miter"/>
<line x1="290.5" y1="781" x2="295" y2="781" stroke-width="2"/>
<line x1="290.5" y1="730.05" x2="295" y2="730.05" stroke-width="2"/>
<line x1="290.5" y1="679.1" x2="295" y2="679.1" stroke-width="2"/>
<line x1="290.5" y1="628.15" x2="295" y2="628.15" stroke-width="2"/>
<line x1="290.5" y1="577.2" x2="295" y2="577.2" stroke-width="2"/>
<line x1="314.8" y1="781" x2="314.8" y2="785.5" stroke-width="2"/>
<line x1="354.9" y1="781" x2="354.9" y2="785.5" stroke-width="2"/>
<line x1="395.1" y1="781" x2="395.1" y2="785.5" stroke-width="2"/>
<line x1="434.9" y1="781" x2="434.9" y2="785.5" stroke-width="2"/>
</g>
<text transform="translate(284 785.27) scale(1 1)" text-anchor="end" font-size="12.5" class="B">0</text>
<text transform="translate(284 734.32) scale(1 1)" text-anchor="end" font-size="12.5" class="B">200</text>
<text transform="translate(284 683.38) scale(1 1)" text-anchor="end" font-size="12.5" class="B">400</text>
<text transform="translate(284 632.43) scale(1 1)" text-anchor="end" font-size="12.5" class="B">600</text>
<text transform="translate(284 581.48) scale(1 1)" text-anchor="end" font-size="12.5" class="B">800</text>
<text transform="translate(313.7 801.35) scale(1.05 1)" text-anchor="middle" font-size="12.5" class="B">Maf</text>
<text transform="translate(354.8 801.35) scale(1.05 1)" text-anchor="middle" font-size="12.5" class="B">Mtb</text>
<text transform="translate(394 801.35) scale(1.05 1)" text-anchor="middle" font-size="12.5" class="B">Maf</text>
<text transform="translate(434.8 801.35) scale(1.05 1)" text-anchor="middle" font-size="12.5" class="B">Mtb</text>
<text transform="translate(248.6 678.4) rotate(-90)" text-anchor="middle" font-size="14" class="B">Platelets (10<tspan dy="-6.8" font-size="9.5">9</tspan><tspan dy="6.8">/L)</tspan></text>
<path d="M314.2 617.2V607.5H397V617.2" fill="none" stroke="#000" stroke-width="1.8" stroke-linejoin="miter"/>
<text transform="translate(355.1 602.96) scale(1 1)" text-anchor="middle" font-size="14" class="B">p=0.0098</text>
<path d="M355.1 588.8V578.9H438.5V588.8" fill="none" stroke="#000" stroke-width="1.8" stroke-linejoin="miter"/>
<text transform="translate(395.9 574.41) scale(1 1)" text-anchor="middle" font-size="14" class="B">p=0.0017</text>
<g><circle cx="314.9" cy="644.2" r="3.4"/><circle cx="314.9" cy="659.4" r="3.4"/><circle cx="314.9" cy="675.9" r="3.4"/><circle cx="306.5" cy="684" r="3.4"/><circle cx="323.4" cy="682.3" r="3.4"/><circle cx="314.9" cy="686.4" r="3.4"/><circle cx="314.9" cy="705" r="3.4"/><circle cx="309.9" cy="709.4" r="3.4"/><circle cx="320" cy="710" r="3.4"/><circle cx="313.2" cy="711.4" r="3.4"/><circle cx="318.3" cy="715.6" r="3.4"/><circle cx="314.9" cy="747.2" r="3.4"/></g>
<g stroke="#000">
<line x1="314.9" y1="666.2" x2="314.9" y2="721.9" stroke-width="2.4"/>
<line x1="308.4" y1="666.2" x2="321.4" y2="666.2" stroke-width="2.2"/>
<line x1="308.4" y1="721.9" x2="321.4" y2="721.9" stroke-width="2.2"/>
<line x1="301.8" y1="694" x2="327.9" y2="694" stroke-width="2"/>
</g>
<g><polygon points="354.9,609.5 351.3,615.9 358.5,615.9"/><polygon points="360.5,623.5 356.9,629.9 364.1,629.9"/><polygon points="344.3,632.2 340.7,638.6 347.9,638.6"/><polygon points="349.9,641.5 346.3,647.9 353.5,647.9"/><polygon points="360.5,646.6 356.9,653 364.1,653"/><polygon points="354.9,663.9 351.3,670.3 358.5,670.3"/><polygon points="349.9,674.1 346.3,680.5 353.5,680.5"/><polygon points="360,674.1 356.4,680.5 363.6,680.5"/><polygon points="344.3,692.1 340.7,698.5 347.9,698.5"/><polygon points="360.5,690.4 356.9,696.8 364.1,696.8"/><polygon points="349.9,700.6 346.3,707 353.5,707"/><polygon points="360.5,710.2 356.9,716.6 364.1,716.6"/><polygon points="360.5,721.3 356.9,727.7 364.1,727.7"/><polygon points="349.9,730.9 346.3,737.3 353.5,737.3"/></g>
<g stroke="#000">
<line x1="354.9" y1="637.1" x2="354.9" y2="712.2" stroke-width="2.4"/>
<line x1="348.4" y1="637.1" x2="361.4" y2="637.1" stroke-width="2.2"/>
<line x1="348.4" y1="712.2" x2="361.4" y2="712.2" stroke-width="2.2"/>
<line x1="341.9" y1="674.6" x2="367.9" y2="674.6" stroke-width="2"/>
</g>
<g><circle cx="386.8" cy="691.7" r="3.45" class="o"/><circle cx="403.4" cy="690.7" r="3.45" class="o"/><circle cx="395.3" cy="696.8" r="3.45" class="o"/><circle cx="395.3" cy="708.9" r="3.45" class="o"/><circle cx="386.5" cy="715.7" r="3.45" class="o"/><circle cx="404" cy="714.9" r="3.45" class="o"/><circle cx="391" cy="720.8" r="3.45" class="o"/><circle cx="399.5" cy="719.9" r="3.45" class="o"/><circle cx="395.3" cy="724.1" r="3.45" class="o"/><circle cx="386.5" cy="733.4" r="3.45" class="o"/><circle cx="403.4" cy="735.1" r="3.45" class="o"/><circle cx="394.9" cy="738" r="3.45" class="o"/></g>
<g stroke="#000">
<line x1="395.3" y1="700" x2="395.3" y2="732.2" stroke-width="2.4"/>
<line x1="388.8" y1="700" x2="401.8" y2="700" stroke-width="2.2"/>
<line x1="388.8" y1="732.2" x2="401.8" y2="732.2" stroke-width="2.2"/>
<line x1="382.1" y1="715.7" x2="408.4" y2="715.7" stroke-width="2"/>
</g>
<g><polygon points="435.4,680.1 432.3,685.5 438.5,685.5" class="o" stroke-linejoin="miter"/><polygon points="440.5,687.3 437.4,692.7 443.6,692.7" class="o" stroke-linejoin="miter"/><polygon points="429.9,694.1 426.8,699.5 433,699.5" class="o" stroke-linejoin="miter"/><polygon points="443.4,710 440.3,715.4 446.5,715.4" class="o" stroke-linejoin="miter"/><polygon points="427,716 423.9,721.4 430.1,721.4" class="o" stroke-linejoin="miter"/><polygon points="440.5,720.1 437.4,725.5 443.6,725.5" class="o" stroke-linejoin="miter"/><polygon points="424.8,727.3 421.7,732.7 427.9,732.7" class="o" stroke-linejoin="miter"/><polygon points="430.4,727.8 427.3,733.2 433.5,733.2" class="o" stroke-linejoin="miter"/><polygon points="440.5,731.6 437.4,737 443.6,737" class="o" stroke-linejoin="miter"/><polygon points="431.5,735.3 428.4,740.7 434.6,740.7" class="o" stroke-linejoin="miter"/><polygon points="438.8,737 435.7,742.4 441.9,742.4" class="o" stroke-linejoin="miter"/><polygon points="435.4,760.3 432.3,765.7 438.5,765.7" class="o" stroke-linejoin="miter"/></g>
<g stroke="#000">
<line x1="435" y1="699.2" x2="435" y2="742.7" stroke-width="2.4"/>
<line x1="428.5" y1="699.2" x2="441.5" y2="699.2" stroke-width="2.2"/>
<line x1="428.5" y1="742.7" x2="441.5" y2="742.7" stroke-width="2.2"/>
<line x1="422.3" y1="721.1" x2="448.4" y2="721.1" stroke-width="2"/>
</g>
<text transform="translate(1 830.9) scale(1 1)" font-size="17" class="B">g</text>
<g stroke="#000" stroke-linecap="butt">
<path d="M52.4 840.11V1041.1H201.9" fill="none" stroke-width="1.8" stroke-linejoin="miter"/>
<line x1="47.9" y1="1041.1" x2="52.4" y2="1041.1" stroke-width="1.8"/>
<line x1="47.9" y1="941.05" x2="52.4" y2="941.05" stroke-width="1.8"/>
<line x1="47.9" y1="841" x2="52.4" y2="841" stroke-width="1.8"/>
<line x1="71.2" y1="1041.1" x2="71.2" y2="1045.6" stroke-width="1.8"/>
<line x1="107.9" y1="1041.1" x2="107.9" y2="1045.6" stroke-width="1.8"/>
<line x1="145.7" y1="1041.1" x2="145.7" y2="1045.6" stroke-width="1.8"/>
<line x1="182.7" y1="1041.1" x2="182.7" y2="1045.6" stroke-width="1.8"/>
</g>
<text transform="translate(41.4 1045.02) scale(1 1)" text-anchor="end" font-size="11.8" class="B">0</text>
<text transform="translate(41.4 944.97) scale(1 1)" text-anchor="end" font-size="11.8" class="B">5</text>
<text transform="translate(41.4 844.92) scale(1 1)" text-anchor="end" font-size="11.8" class="B">10</text>
<text transform="translate(70.1 1062.35) scale(1.05 1)" text-anchor="middle" font-size="12.5" class="B">Maf</text>
<text transform="translate(107.8 1062.35) scale(1.05 1)" text-anchor="middle" font-size="12.5" class="B">Mtb</text>
<text transform="translate(144.6 1062.35) scale(1.05 1)" text-anchor="middle" font-size="12.5" class="B">Maf</text>
<text transform="translate(182.6 1062.35) scale(1.05 1)" text-anchor="middle" font-size="12.5" class="B">Mtb</text>
<text transform="translate(13.3 940) rotate(-90)" text-anchor="middle" font-size="14.8" class="B">Eosinophil (%)</text>
<path d="M106.5 945V936H183.3V945" fill="none" stroke="#000" stroke-width="1.8" stroke-linejoin="miter"/>
<text transform="translate(145 929.45) scale(1 1)" text-anchor="middle" font-size="13" class="B">p=0.037</text>
<g><circle cx="71.2" cy="848.5" r="3.4"/><circle cx="71.2" cy="915.9" r="3.4"/><circle cx="71.2" cy="977.5" r="3.4"/><circle cx="71.2" cy="1000.7" r="3.4"/><circle cx="71.2" cy="1015.4" r="3.4"/><circle cx="71.2" cy="1040.3" r="3.4"/></g>
<g stroke="#000">
<line x1="71.2" y1="894.8" x2="71.2" y2="1037.8" stroke-width="2.4"/>
<line x1="64.7" y1="894.8" x2="77.7" y2="894.8" stroke-width="2.2"/>
<line x1="64.7" y1="1037.8" x2="77.7" y2="1037.8" stroke-width="2.2"/>
<line x1="59.4" y1="966.5" x2="83.2" y2="966.5" stroke-width="2"/>
</g>
<g><polygon points="107.9,951.7 104.3,958.1 111.5,958.1"/><polygon points="103.3,973.4 99.7,979.8 106.9,979.8"/><polygon points="112.8,980.2 109.2,986.6 116.4,986.6"/><polygon points="107.9,1003.4 104.3,1009.8 111.5,1009.8"/><polygon points="101.2,1010.8 97.6,1017.2 104.8,1017.2"/><polygon points="116,1008 112.4,1014.4 119.6,1014.4"/><polygon points="107.9,1011.8 104.3,1018.2 111.5,1018.2"/><polygon points="101.2,1027 97.6,1033.4 104.8,1033.4"/><polygon points="107.9,1033.3 104.3,1039.7 111.5,1039.7"/><polygon points="116,1032.5 112.4,1038.9 119.6,1038.9"/></g>
<g stroke="#000">
<line x1="107.9" y1="978.7" x2="107.9" y2="1032.3" stroke-width="2.4"/>
<line x1="101.4" y1="978.7" x2="114.4" y2="978.7" stroke-width="2.2"/>
<line x1="101.4" y1="1032.3" x2="114.4" y2="1032.3" stroke-width="2.2"/>
<line x1="96.5" y1="1006.2" x2="120.6" y2="1006.2" stroke-width="2"/>
</g>
<g><circle cx="137.3" cy="1018.1" r="3.45" class="o"/><circle cx="145.3" cy="1016" r="3.45" class="o"/><circle cx="153.8" cy="1019.2" r="3.45" class="o"/><circle cx="142.2" cy="1023.8" r="3.45" class="o"/><circle cx="149.5" cy="1023.4" r="3.45" class="o"/><circle cx="145.3" cy="1028" r="3.45" class="o"/></g>
<g stroke="#000">
<line x1="145.5" y1="1018.1" x2="145.5" y2="1025.5" stroke-width="2.4"/>
<line x1="139" y1="1018.1" x2="152" y2="1018.1" stroke-width="2.2"/>
<line x1="139" y1="1025.5" x2="152" y2="1025.5" stroke-width="2.2"/>
<line x1="133.1" y1="1021.7" x2="158" y2="1021.7" stroke-width="2"/>
</g>
<g><polygon points="174.4,1013.3 171.3,1018.7 177.5,1018.7" class="o" stroke-linejoin="miter"/><polygon points="190.7,1013.3 187.6,1018.7 193.8,1018.7" class="o" stroke-linejoin="miter"/><polygon points="174.4,1027 171.3,1032.4 177.5,1032.4" class="o" stroke-linejoin="miter"/><polygon points="183.3,1019.6 180.2,1025 186.4,1025" class="o" stroke-linejoin="miter"/><polygon points="187.1,1020.7 184,1026.1 190.2,1026.1" class="o" stroke-linejoin="miter"/><polygon points="191.7,1026.6 188.6,1032 194.8,1032" class="o" stroke-linejoin="miter"/><polygon points="179.1,1026.6 176,1032 182.2,1032" class="o" stroke-linejoin="miter"/><polygon points="182.9,1035.4 179.8,1040.8 186,1040.8" class="o" stroke-linejoin="miter"/></g>
<g stroke="#000">
<line x1="182.9" y1="1018.7" x2="182.9" y2="1032.2" stroke-width="2.4"/>
<line x1="176.4" y1="1018.7" x2="189.4" y2="1018.7" stroke-width="2.2"/>
<line x1="176.4" y1="1032.2" x2="189.4" y2="1032.2" stroke-width="2.2"/>
<line x1="170.6" y1="1025.5" x2="195.5" y2="1025.5" stroke-width="2"/>
</g>
<g stroke="#000">
<line x1="51.8" y1="1071.6" x2="115.9" y2="1071.6" stroke-width="3"/>
<line x1="136.8" y1="1071.6" x2="199.5" y2="1071.6" stroke-width="3"/>
</g>
<text transform="translate(85.8 1088.8) scale(1.06 1)" text-anchor="middle" font-size="13" class="B">Pre</text>
<text transform="translate(167.6 1088.8) scale(1.06 1)" text-anchor="middle" font-size="13" class="B">Post</text>
<text transform="translate(236.9 834) scale(1 1)" font-size="17" class="B">h</text>
<g stroke="#000" stroke-linecap="butt">
<path d="M294.9 838.31V1041.2H454.6" fill="none" stroke-width="1.8" stroke-linejoin="miter"/>
<line x1="290.4" y1="1041.2" x2="294.9" y2="1041.2" stroke-width="1.8"/>
<line x1="290.4" y1="1000.8" x2="294.9" y2="1000.8" stroke-width="1.8"/>
<line x1="290.4" y1="960.4" x2="294.9" y2="960.4" stroke-width="1.8"/>
<line x1="290.4" y1="920" x2="294.9" y2="920" stroke-width="1.8"/>
<line x1="290.4" y1="879.6" x2="294.9" y2="879.6" stroke-width="1.8"/>
<line x1="290.4" y1="839.2" x2="294.9" y2="839.2" stroke-width="1.8"/>
<line x1="314.7" y1="1041.2" x2="314.7" y2="1045.7" stroke-width="1.8"/>
<line x1="354.4" y1="1041.2" x2="354.4" y2="1045.7" stroke-width="1.8"/>
<line x1="393.9" y1="1041.2" x2="393.9" y2="1045.7" stroke-width="1.8"/>
<line x1="433.7" y1="1041.2" x2="433.7" y2="1045.7" stroke-width="1.8"/>
</g>
<text transform="translate(283.9 1045.12) scale(1 1)" text-anchor="end" font-size="11.8" class="B">0</text>
<text transform="translate(283.9 1004.72) scale(1 1)" text-anchor="end" font-size="11.8" class="B">5</text>
<text transform="translate(283.9 964.32) scale(1 1)" text-anchor="end" font-size="11.8" class="B">10</text>
<text transform="translate(283.9 923.92) scale(1 1)" text-anchor="end" font-size="11.8" class="B">15</text>
<text transform="translate(283.9 883.52) scale(1 1)" text-anchor="end" font-size="11.8" class="B">20</text>
<text transform="translate(283.9 843.12) scale(1 1)" text-anchor="end" font-size="11.8" class="B">25</text>
<text transform="translate(313.6 1062.65) scale(1.05 1)" text-anchor="middle" font-size="12.5" class="B">Maf</text>
<text transform="translate(354.3 1062.65) scale(1.05 1)" text-anchor="middle" font-size="12.5" class="B">Mtb</text>
<text transform="translate(392.8 1062.65) scale(1.05 1)" text-anchor="middle" font-size="12.5" class="B">Maf</text>
<text transform="translate(433.6 1062.65) scale(1.05 1)" text-anchor="middle" font-size="12.5" class="B">Mtb</text>
<text transform="translate(248.6 940) rotate(-90)" text-anchor="middle" font-size="14" class="B">Total WBC (10<tspan dy="-6.8" font-size="9.5">9</tspan><tspan dy="6.8">/L)</tspan></text>
<path d="M314.2 878.4V871.8H396.3V880.5" fill="none" stroke="#000" stroke-width="1.8" stroke-linejoin="miter"/>
<text transform="translate(354.7 865.21) scale(1 1)" text-anchor="middle" font-size="14" class="B">p=0.0005</text>
<path d="M354.8 921.5V912.8H437.5V922" fill="none" stroke="#000" stroke-width="1.8" stroke-linejoin="miter"/>
<text transform="translate(394.85 907.81) scale(1 1)" text-anchor="middle" font-size="14" class="B">p=0.0002</text>
<g><circle cx="314.7" cy="884.9" r="3.4"/><circle cx="314.7" cy="954.1" r="3.4"/><circle cx="309.9" cy="963.2" r="3.4"/><circle cx="320" cy="963.2" r="3.4"/><circle cx="314.7" cy="974.4" r="3.4"/><circle cx="323.4" cy="976.7" r="3.4"/><circle cx="306.5" cy="982.8" r="3.4"/><circle cx="314.7" cy="984" r="3.4"/><circle cx="309.9" cy="1008.1" r="3.4"/><circle cx="320" cy="1005.1" r="3.4"/><circle cx="311.5" cy="1010.5" r="3.4"/><circle cx="318.3" cy="1009.3" r="3.4"/></g>
<g stroke="#000">
<line x1="314.7" y1="941.8" x2="314.7" y2="1009" stroke-width="2.4"/>
<line x1="308.2" y1="941.8" x2="321.2" y2="941.8" stroke-width="2.2"/>
<line x1="308.2" y1="1009" x2="321.2" y2="1009" stroke-width="2.2"/>
<line x1="301.8" y1="976.4" x2="327.4" y2="976.4" stroke-width="2"/>
</g>
<g><polygon points="354.4,924.6 350.8,931 358,931"/><polygon points="354.4,938.1 350.8,944.5 358,944.5"/><polygon points="362.5,944.1 358.9,950.5 366.1,950.5"/><polygon points="345.6,949.9 342,956.3 349.2,956.3"/><polygon points="354.4,953.3 350.8,959.7 358,959.7"/><polygon points="359.5,959.7 355.9,966.1 363.1,966.1"/><polygon points="344,966.1 340.4,972.5 347.6,972.5"/><polygon points="349.3,973.2 345.7,979.6 352.9,979.6"/><polygon points="359.5,977.4 355.9,983.8 363.1,983.8"/><polygon points="351.5,978.2 347.9,984.6 355.1,984.6"/><polygon points="357.4,981.6 353.8,988 361,988"/><polygon points="345.6,987.5 342,993.9 349.2,993.9"/><polygon points="354.4,993.1 350.8,999.5 358,999.5"/><polygon points="362.5,993.1 358.9,999.5 366.1,999.5"/></g>
<g stroke="#000">
<line x1="354.4" y1="946.8" x2="354.4" y2="989.6" stroke-width="2.4"/>
<line x1="347.9" y1="946.8" x2="360.9" y2="946.8" stroke-width="2.2"/>
<line x1="347.9" y1="989.6" x2="360.9" y2="989.6" stroke-width="2.2"/>
<line x1="341.4" y1="968.4" x2="367.9" y2="968.4" stroke-width="2"/>
</g>
<g><circle cx="399" cy="985.2" r="3.45" class="o"/><circle cx="388.8" cy="991.5" r="3.45" class="o"/><circle cx="402.8" cy="994.9" r="3.45" class="o"/><circle cx="385.5" cy="997.4" r="3.45" class="o"/><circle cx="391.9" cy="997" r="3.45" class="o"/><circle cx="396.6" cy="998.2" r="3.45" class="o"/><circle cx="385.5" cy="1003.3" r="3.45" class="o"/><circle cx="391.9" cy="1001.6" r="3.45" class="o"/><circle cx="397.8" cy="1002.4" r="3.45" class="o"/><circle cx="402.3" cy="1006.7" r="3.45" class="o"/><circle cx="393.9" cy="1012.2" r="3.45" class="o"/></g>
<g stroke="#000">
<line x1="393.9" y1="993.2" x2="393.9" y2="1005" stroke-width="2.4"/>
<line x1="387.4" y1="993.2" x2="400.4" y2="993.2" stroke-width="2.2"/>
<line x1="387.4" y1="1005" x2="400.4" y2="1005" stroke-width="2.2"/>
<line x1="380.9" y1="999.1" x2="407.4" y2="999.1" stroke-width="2"/>
</g>
<g><polygon points="433.7,971.1 430.6,976.5 436.8,976.5" class="o" stroke-linejoin="miter"/><polygon points="438.8,986.3 435.7,991.7 441.9,991.7" class="o" stroke-linejoin="miter"/><polygon points="428.7,991 425.6,996.4 431.8,996.4" class="o" stroke-linejoin="miter"/><polygon points="437.8,993.8 434.7,999.2 440.9,999.2" class="o" stroke-linejoin="miter"/><polygon points="429.9,996 426.8,1001.4 433,1001.4" class="o" stroke-linejoin="miter"/><polygon points="425.3,1002.8 422.2,1008.2 428.4,1008.2" class="o" stroke-linejoin="miter"/><polygon points="442.5,1002.3 439.4,1007.7 445.6,1007.7" class="o" stroke-linejoin="miter"/><polygon points="429.9,1004.8 426.8,1010.2 433,1010.2" class="o" stroke-linejoin="miter"/><polygon points="437.8,1004.8 434.7,1010.2 440.9,1010.2" class="o" stroke-linejoin="miter"/><polygon points="425.3,1011.6 422.2,1017 428.4,1017" class="o" stroke-linejoin="miter"/><polygon points="442.2,1014.1 439.1,1019.5 445.3,1019.5" class="o" stroke-linejoin="miter"/><polygon points="433.7,1020 430.6,1025.4 436.8,1025.4" class="o" stroke-linejoin="miter"/></g>
<g stroke="#000">
<line x1="433.7" y1="989.8" x2="433.7" y2="1014.3" stroke-width="2.4"/>
<line x1="427.2" y1="989.8" x2="440.2" y2="989.8" stroke-width="2.2"/>
<line x1="427.2" y1="1014.3" x2="440.2" y2="1014.3" stroke-width="2.2"/>
<line x1="420.9" y1="1002.8" x2="447.2" y2="1002.8" stroke-width="2"/>
</g>
<g stroke="#000">
<line x1="302.5" y1="1070.6" x2="366" y2="1070.6" stroke-width="2.6"/>
<line x1="385.6" y1="1070.6" x2="450.3" y2="1070.6" stroke-width="2.6"/>
</g>
<text transform="translate(336.9 1089.2) scale(1.06 1)" text-anchor="middle" font-size="13.6" class="B">Pre</text>
<text transform="translate(417.5 1089.2) scale(1.06 1)" text-anchor="middle" font-size="13.6" class="B">Post</text>
</svg>
</body></html>
